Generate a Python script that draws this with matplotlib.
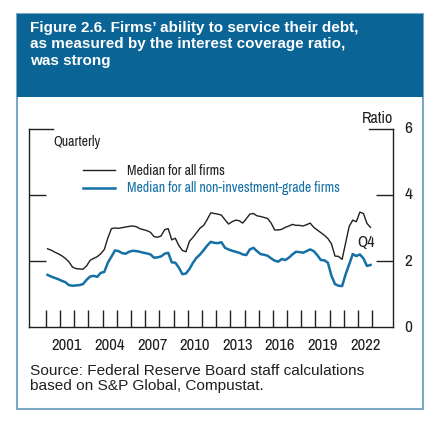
import matplotlib
matplotlib.use("Agg")
import matplotlib.pyplot as plt
from matplotlib.patches import Rectangle
import numpy as np

# quarterly medians, 2000Q1 - 2022Q4
years = list(range(2000, 2023))
all_firms = [
    2.37, 2.33, 2.27, 2.22,  # 2000
    2.16, 2.08, 1.98, 1.82,  # 2001
    1.77, 1.76, 1.75, 1.85,  # 2002
    2.02, 2.08, 2.13, 2.22,  # 2003
    2.35, 2.70, 2.98, 3.00,  # 2004
    2.99, 3.01, 3.03, 3.05,  # 2005
    3.06, 3.04, 2.98, 2.95,  # 2006
    2.92, 2.87, 2.74, 2.72,  # 2007
    2.76, 2.95, 2.98, 2.64,  # 2008
    2.69, 2.47, 2.32, 2.28,  # 2009
    2.60, 2.72, 2.86, 3.00,  # 2010
    3.08, 3.26, 3.46, 3.44,  # 2011
    3.42, 3.39, 3.25, 3.12,  # 2012
    3.19, 3.24, 3.22, 3.15,  # 2013
    3.28, 3.42, 3.44, 3.37,  # 2014
    3.35, 3.32, 3.29, 3.15,  # 2015
    2.94, 2.94, 2.96, 3.02,  # 2016
    3.06, 3.11, 3.08, 3.08,  # 2017
    3.06, 3.10, 3.15, 3.02,  # 2018
    2.94, 2.86, 2.78, 2.68,  # 2019
    2.52, 2.15, 2.14, 2.05,  # 2020
    2.55, 3.05, 3.24, 3.19,  # 2021
    3.48, 3.44, 3.14, 3.02,  # 2022
]
non_ig_firms = [
    1.58, 1.53, 1.49, 1.45,  # 2000
    1.40, 1.36, 1.27, 1.25,  # 2001
    1.26, 1.27, 1.30, 1.43,  # 2002
    1.53, 1.55, 1.52, 1.64,  # 2003
    1.67, 1.95, 2.13, 2.32,  # 2004
    2.30, 2.24, 2.22, 2.28,  # 2005
    2.31, 2.30, 2.28, 2.25,  # 2006
    2.23, 2.20, 2.10, 2.11,  # 2007
    2.14, 2.22, 2.25, 1.96,  # 2008
    1.95, 1.80, 1.60, 1.62,  # 2009
    1.76, 1.95, 2.10, 2.20,  # 2010
    2.33, 2.47, 2.58, 2.55,  # 2011
    2.54, 2.57, 2.40, 2.35,  # 2012
    2.31, 2.28, 2.25, 2.20,  # 2013
    2.18, 2.35, 2.40, 2.30,  # 2014
    2.21, 2.19, 2.16, 2.08,  # 2015
    2.01, 1.98, 2.06, 2.03,  # 2016
    2.10, 2.20, 2.28, 2.27,  # 2017
    2.25, 2.30, 2.35, 2.30,  # 2018
    2.18, 2.03, 2.02, 1.95,  # 2019
    1.55, 1.30, 1.25, 1.24,  # 2020
    1.60, 1.90, 2.21, 2.15,  # 2021
    2.20, 2.08, 1.85, 1.88,  # 2022
]
year_labels = [2001, 2004, 2007, 2010, 2013, 2016, 2019, 2022]

# quarter midpoints in fractional years
t = np.array([y + (q + 0.5) / 4 for y in years for q in range(4)])

narrow = ['Archivo Narrow', 'Liberation Sans', 'DejaVu Sans']
plain = ['Liberation Sans', 'DejaVu Sans']
header_blue = '#0a6496'
line_blue = '#1470a5'
text_dark = '#231f20'

fig = plt.figure(figsize=(4.45, 4.29), dpi=100)
W, H = 445, 429

def fx(px):
    return px / W

def fy(py):
    return 1 - py / H

# outer frame and title band
fig.patches.append(Rectangle((fx(17), fy(409)), fx(423) - fx(17), fy(14) - fy(409),
                             transform=fig.transFigure, facecolor='white',
                             edgecolor='#7ba7c4', linewidth=1.5, zorder=-2))
fig.patches.append(Rectangle((fx(17), fy(97)), fx(423) - fx(17), fy(14) - fy(97),
                             transform=fig.transFigure, facecolor=header_blue,
                             edgecolor='none', zorder=-1))
fig.text(fx(30), fy(21), "Figure 2.6. Firms\u2019 ability to service their debt,\n"
         "as measured by the interest coverage ratio,\nwas strong",
         color='white', fontsize=11.0, fontweight='bold', family=plain,
         va='top', ha='left', linespacing=1.22)

ax = fig.add_axes([fx(29), fy(327), fx(393) - fx(29), fy(129) - fy(327)])
ax.patch.set_visible(False)
ax.plot(t, all_firms, color=text_dark, lw=1.0, label='Median for all firms')
ax.plot(t, non_ig_firms, color=line_blue, lw=1.8,
        label='Median for all non-investment-grade firms')

ax.set_ylim(0, 6)
ax.set_xlim(1998.82, 2024.46)
ax.spines['top'].set_visible(False)
for s in ax.spines.values():
    s.set_linewidth(1.0)
    s.set_color(text_dark)

# y ticks on both sides, inward; labels on right
ax.set_yticks([2, 4])
ax.set_yticklabels([])
ax.tick_params(axis='y', direction='in', length=12, width=1, color=text_dark,
               left=True, right=True, labelleft=False, labelright=False)
for yv in [0, 2, 4, 6]:
    ax.text(1.042, yv / 6, str(yv), transform=ax.transAxes, ha='center', va='center',
            fontsize=12.5, family=narrow, color=text_dark)
# long ticks at the top
ax.plot([0, 24 / 364], [1, 1], transform=ax.transAxes, color=text_dark, lw=1, clip_on=False)
ax.plot([1 - 24 / 364, 1], [1, 1], transform=ax.transAxes, color=text_dark, lw=1, clip_on=False)

# x ticks at each year boundary, labels centered mid-year
ax.set_xticks(range(2000, 2024))
ax.set_xticklabels([])
ax.tick_params(axis='x', direction='in', length=12, width=1, color=text_dark)
ax.set_xticks([y + 0.5 for y in year_labels], minor=True)
ax.set_xticklabels([str(y) for y in year_labels], minor=True, fontsize=12,
                   family=narrow, color=text_dark)
ax.tick_params(axis='x', which='minor', length=0, pad=8)

ax.text(1.0, 1.055, 'Ratio', transform=ax.transAxes, ha='right', va='center',
        fontsize=11.5, family=narrow, color=text_dark)
ax.text(24 / 364, 1 - 13 / 198, 'Quarterly', transform=ax.transAxes, ha='left',
        va='center', fontsize=10, family=narrow, color=text_dark)

leg = ax.legend(loc='upper left', bbox_to_anchor=(54 / 364, 1 - 35 / 198), frameon=False,
                prop={'family': narrow, 'size': 10}, handlelength=2.3,
                handletextpad=0.9, labelspacing=0.25, borderaxespad=0, borderpad=0)
leg.get_texts()[1].set_color(line_blue)
leg.get_texts()[0].set_color(text_dark)

ax.text(2022.55, 2.55, 'Q4', fontsize=11.5, family=narrow, color=text_dark,
        ha='center', va='center')

fig.text(fx(30), fy(364), "Source: Federal Reserve Board staff calculations\n"
         "based on S&P Global, Compustat.", fontsize=11.1, family=plain,
         color=text_dark, ha='left', va='top', linespacing=1.12)

fig.savefig('out.png', dpi=100)
